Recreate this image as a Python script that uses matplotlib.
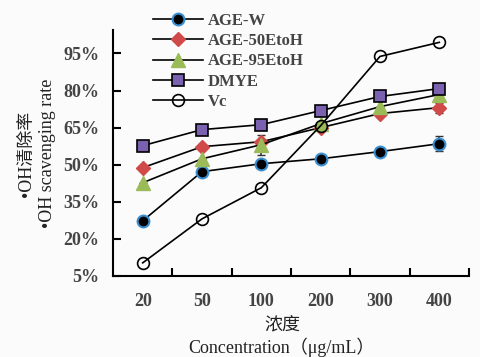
import matplotlib
matplotlib.use("Agg")
import matplotlib.pyplot as plt
import numpy as np

conc = ["20", "50", "100", "200", "300", "400"]
age_w = [27.3, 47.2, 50.4, 52.4, 55.3, 58.5]
age_50 = [48.8, 57.3, 59.3, 65.0, 70.7, 73.1]
age_95 = [42.7, 52.4, 58.1, 66.6, 73.5, 78.4]
dmye = [57.7, 64.2, 66.2, 71.9, 77.6, 80.8]
vc = [10.3, 28.1, 40.7, 65.8, 93.8, 99.5]
err_w = [0, 0, 0, 0, 0, 3.0]
err_50 = [0, 0, 0, 0, 0, 2.0]
err_95 = [0, 0, 4.0, 0, 0, 0]
yticks = [5, 20, 35, 50, 65, 80, 95]

plt.rcParams["font.family"] = ["Liberation Serif", "Noto Sans CJK SC"]

fig = plt.figure(figsize=(4.81, 3.57), dpi=100)
fig.patch.set_facecolor("#fbfbfb")
ax = fig.add_axes([0.235, 0.227, 0.74, 0.689])
ax.set_facecolor("#fbfbfb")

x = np.arange(len(conc))
# error bars first, markers drawn on top
for vals, err in [(age_w, err_w), (age_50, err_50), (age_95, err_95)]:
    ax.errorbar(x, vals, yerr=err, fmt="none", ecolor="#333333",
                elinewidth=1.2, capsize=3, zorder=2)

ax.plot(x, age_w, "-o", color="black", mfc="black", mec="#3a8fd0",
        mew=1.5, ms=8.5, lw=1.2, label="AGE-W", zorder=3)
ax.plot(x, age_50, "-D", color="black", mfc="#d04a4a", mec="#d04a4a",
        ms=7, lw=1.2, label="AGE-50EtoH", zorder=3)
ax.plot(x, age_95, "-^", color="black", mfc="#9bbb59", mec="#9bbb59",
        ms=10.5, lw=1.2, label="AGE-95EtoH", zorder=3)
ax.plot(x, dmye, "-s", color="black", mfc="#7b62b0", mec="black",
        mew=1.2, ms=8, lw=1.2, label="DMYE", zorder=3)
ax.plot(x, vc, "-o", color="black", mfc="none", mec="black",
        mew=1.2, ms=8.5, lw=1.2, label="Vc", zorder=3)

ax.set_xlim(-0.5, 5.5)
ax.set_ylim(5, 104.5)
ax.set_xticks(x)
ax.set_xticklabels(conc)
ax.set_xticks(x + 0.5, minor=True)
ax.set_yticks(yticks)
ax.set_yticklabels([f"{v}%" for v in yticks])
ax.tick_params(axis="x", which="major", length=0, pad=12)
ax.tick_params(axis="x", which="minor", direction="in", length=6, width=1.5)
ax.tick_params(axis="y", direction="in", length=6, width=1.5, pad=10)
for lab in ax.get_xticklabels() + ax.get_yticklabels():
    lab.set_fontsize(13)
    lab.set_fontweight("bold")
    lab.set_color("#444444")
for s in ["top", "right"]:
    ax.spines[s].set_visible(False)
for s in ["left", "bottom"]:
    ax.spines[s].set_linewidth(1.5)

leg = ax.legend(loc="upper left", bbox_to_anchor=(0.07, 1.13), frameon=False,
                prop={"size": 12, "weight": "bold"}, handlelength=3,
                labelspacing=0.25, handletextpad=0.3)
for t in leg.get_texts():
    t.set_color("#444444")

fig.text(0.054, 0.57, "•OH清除率", rotation=90, ha="center", va="center",
         fontsize=13, color="#222222")
fig.text(0.098, 0.57, "•OH scavenging rate", rotation=90, ha="center",
         va="center", fontsize=13, color="#222222")
fig.text(0.588, 0.09, "浓度", ha="center", va="center", fontsize=13,
         color="#222222")
fig.text(0.585, 0.026, "Concentration（μg/mL）", ha="center", va="center",
         fontsize=13, color="#222222")

fig.savefig("out.png", dpi=100)
